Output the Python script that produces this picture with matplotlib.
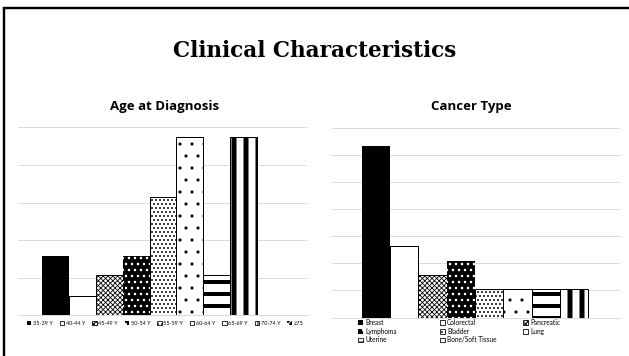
import matplotlib
matplotlib.use('Agg')
import matplotlib.pyplot as plt
from matplotlib.patches import Rectangle, Patch

# Share of patients (%) per group
age_groups = ['35-39 Y', '40-44 Y', '45-49 Y', '50-54 Y', '55-59 Y',
              '60-64 Y', '65-69 Y', '70-74 Y', '\u226575']
age_pct = [7.9, 2.6, 5.3, 7.9, 15.8, 23.7, 5.3, 23.7, 0.0]

cancer_types = ['Breast', 'Colorectal', 'Pancreatic', 'Lymphoma', 'Bladder',
                'Lung', 'Uterine', 'Bone/Soft Tissue']
cancer_pct = [31.6, 13.2, 7.9, 10.5, 5.3, 5.3, 5.3, 5.3]

# pattern styles: (face, hatch colour, hatch, hatch linewidth)
STYLES = [
    ('black', 'black', None, 1.0),      # solid
    ('white', 'black', None, 1.0),      # empty
    ('white', 'black', 'xxxxx', 0.8),   # checker
    ('black', 'white', '..', 1.3),      # black w/ white dots
    ('white', 'black', '...', 1.1),     # dense dots
    ('white', 'black', '.', 0.6),       # sparse dots
    ('white', 'black', '-', 4.0),       # horizontal stripes
    ('white', 'black', '|', 5.0),       # vertical stripes
    ('black', 'white', 'xx', 0.8),      # >=75
]

DPI = 72
fig = plt.figure(figsize=(629 / DPI, 356 / DPI), dpi=DPI)
fig.patch.set_facecolor('white')

GRID = '#d9d9d9'
SANS = ['Open Sans', 'DejaVu Sans']
LEG = ['Lato', 'DejaVu Sans']


def styled_bar(ax, x, h, style):
    face, hcol, hatch, hlw = style
    with plt.rc_context({'hatch.linewidth': hlw}):
        if face == 'black':
            b = ax.bar(x, h, width=1.0, color='black', edgecolor=hcol,
                       hatch=hatch, linewidth=0, zorder=3)
        else:
            b = ax.bar(x, h, width=1.0, color='white', edgecolor='black',
                       hatch=hatch, linewidth=1.0, zorder=3)
    p = b.patches[0]
    if hasattr(p, 'set_hatch_linewidth'):
        p.set_hatch_linewidth(hlw)
    return p


def legend_patch(style, label):
    face, hcol, hatch, hlw = style
    with plt.rc_context({'hatch.linewidth': min(hlw, 1.0)}):
        if face == 'black':
            p = Patch(facecolor='black', edgecolor=hcol, hatch=hatch,
                      linewidth=0, label=label)
        else:
            p = Patch(facecolor='white', edgecolor='black', hatch=hatch,
                      linewidth=0.8, label=label)
    if hasattr(p, 'set_hatch_linewidth'):
        p.set_hatch_linewidth(min(hlw, 1.0))
    return p


def setup_axes(ax, top, xlim):
    ax.set_ylim(0, top)
    ax.set_xlim(*xlim)
    ax.set_yticks(range(0, top + 1, 5))
    ax.yaxis.grid(True, color=GRID, linewidth=0.9, zorder=0)
    ax.set_axisbelow(True)
    ax.tick_params(left=False, bottom=False, labelleft=False, labelbottom=False)
    for s in ['left', 'right', 'top']:
        ax.spines[s].set_visible(False)
    ax.spines['bottom'].set_color(GRID)
    ax.spines['bottom'].set_linewidth(0.9)


# --- Age at diagnosis ---
ax1 = fig.add_axes([18 / 629, 1 - 315 / 356, 289 / 629, 187.5 / 356])
setup_axes(ax1, 25, (-1.41, 9.38))
for i, v in enumerate(age_pct):
    styled_bar(ax1, i, v, STYLES[i])

# --- Cancer type ---
ax2 = fig.add_axes([331.7 / 629, 1 - 317.5 / 356, 288.3 / 629, 189.8 / 356])
setup_axes(ax2, 35, (-1.56, 8.62))
for i, v in enumerate(cancer_pct):
    styled_bar(ax2, i, v, STYLES[i])

# titles
fig.text(315 / 629, 1 - 57.3 / 356, 'Clinical Characteristics',
         ha='center', va='baseline', fontsize=21.5, fontweight='bold',
         family=['DejaVu Serif'])
fig.text(165 / 629, 1 - 110 / 356, 'Age at Diagnosis', ha='center',
         va='baseline', fontsize=13.3, fontweight='bold', family=SANS)
fig.text(471 / 629, 1 - 110 / 356, 'Cancer Type', ha='center',
         va='baseline', fontsize=13.3, fontweight='bold', family=SANS)

# legend under age chart, one row
h1 = [legend_patch(STYLES[i], lab) for i, lab in enumerate(age_groups)]
fig.legend(handles=h1, loc='upper left', bbox_to_anchor=(27 / 629, 1 - 320.5 / 356),
           ncol=9, frameon=False, handlelength=0.8,
           handleheight=0.8, handletextpad=0.3, columnspacing=1.25,
           borderpad=0, borderaxespad=0, prop={'family': LEG, 'size': 5.5})

# legend under cancer chart, three columns placed one by one
h2 = [legend_patch(STYLES[i], lab) for i, lab in enumerate(cancer_types)]
col_x = [358, 440, 523]
for c in range(3):
    hs = h2[c::3]
    fig.legend(handles=hs, loc='upper left',
               bbox_to_anchor=(col_x[c] / 629, 1 - 319 / 356), ncol=1,
               frameon=False, handlelength=0.8, handleheight=0.8,
               handletextpad=0.3, labelspacing=0.25, borderpad=0,
               borderaxespad=0, prop={'family': LEG, 'size': 6.5})

# slide frame (only left and top edges are in view)
fig.add_artist(Rectangle((4.3 / 629, -0.2), 1.5, 1.2 - 7.8 / 356,
                         transform=fig.transFigure, fill=False,
                         edgecolor='black', linewidth=2.4))

fig.savefig('out.png', dpi=DPI, facecolor='white')
